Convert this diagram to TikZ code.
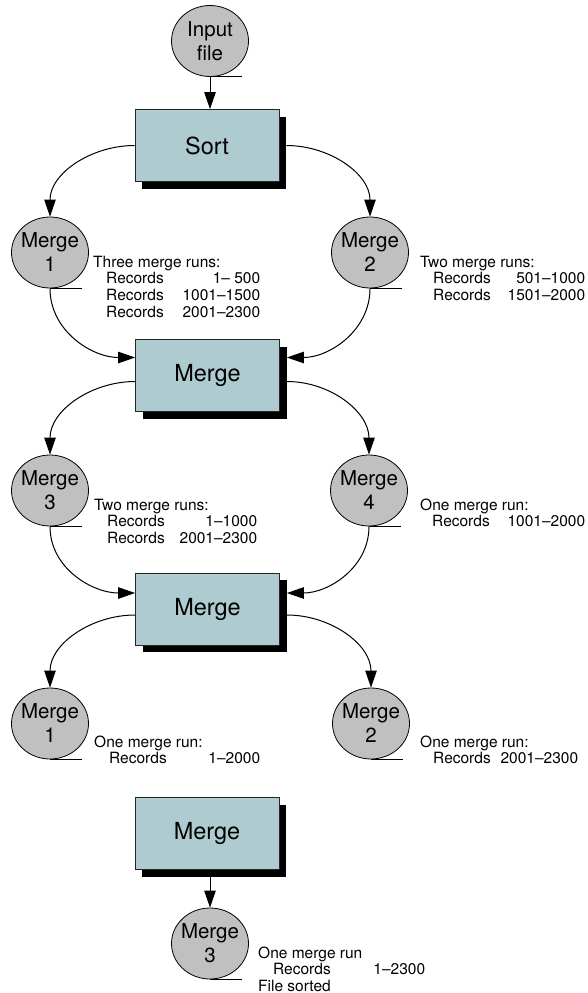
\documentclass[tikz,border=0pt]{standalone}
\usepackage{fontspec}
\setmainfont{TeX Gyre Heros}
\usetikzlibrary{arrows.meta,shapes.geometric,shadows}
\definecolor{boxfill}{RGB}{174,203,207}
\definecolor{circfill}{RGB}{192,192,192}
\newcommand\recline[3]{\makebox[#1pt][l]{\hspace*{#2pt}Records\hfill #3}}
\begin{document}
\begin{tikzpicture}[x=1pt,y=1pt,
  procbox/.style={draw=black!85, line width=0.8pt, fill=boxfill, minimum width=144pt, minimum height=72pt, inner sep=0pt,
    font=\fontsize{23.5}{28}\selectfont,
    drop shadow={shadow xshift=7pt, shadow yshift=-7pt, fill=black, opacity=1}},
  fileell/.style={ellipse, draw=black, line width=0.8pt, fill=circfill, minimum width=77pt, minimum height=71pt,
    inner sep=-4pt, align=center, font=\fontsize{20.5}{24}\selectfont},
  conn/.style={line width=1pt, -{Triangle[length=17pt,width=11.5pt]}},
  uline/.style={line width=1pt},
  info/.style={anchor=base west, inner sep=0pt, font=\fontsize{15.5}{16.8}\selectfont}]
\useasboundingbox (0,0) rectangle (587,-993);

% nodes
\node[fileell] (inp) at (210,-41) {Input\\file};
\node[procbox] (sort) at (207,-145.5) {Sort};
\node[fileell] (a1) at (50,-252.5) {Merge\\1};
\node[fileell] (a2) at (370,-252.5) {Merge\\2};
\node[procbox] (mb1) at (207.5,-375.5) {Merge};
\node[fileell] (b3) at (50,-490.5) {Merge\\3};
\node[fileell] (b4) at (369,-490.5) {Merge\\4};
\node[procbox] (mb2) at (207.5,-609) {Merge};
\node[fileell] (c1) at (50,-723.5) {Merge\\1};
\node[fileell] (c2) at (371,-723.5) {Merge\\2};
\node[procbox] (mb3) at (207,-833.5) {Merge};
\node[fileell] (d3) at (210,-943.5) {Merge\\3};

% underlines
\foreach \n in {inp,a1,a2,b3,b4,c1,c2,d3} \draw[uline] (\n.south) -- ++(32,0);

% info texts
\node[info] (t1) at (93,-267) {\begin{tabular}[t]{@{}l@{}}Three merge runs:\\
  \recline{167}{13}{1– 500}\\ \recline{167}{13}{1001–1500}\\ \recline{167}{13}{2001–2300}\end{tabular}};
\node[info] (t2) at (420,-267) {\begin{tabular}[t]{@{}l@{}}Two merge runs:\\
  \recline{165}{13}{501–1000}\\ \recline{165}{13}{1501–2000}\end{tabular}};
\node[info] (t3) at (94,-510) {\begin{tabular}[t]{@{}l@{}}Two merge runs:\\
  \recline{163}{13}{1–1000}\\ \recline{163}{13}{2001–2300}\end{tabular}};
\node[info] (t4) at (420,-510) {\begin{tabular}[t]{@{}l@{}}One merge run:\\
  \recline{165}{12}{1001–2000}\end{tabular}};
\node[info] (t5) at (94,-747) {\begin{tabular}[t]{@{}l@{}}One merge run:\\
  \recline{166}{15}{1–2000}\end{tabular}};
\node[info] (t6) at (420,-747) {\begin{tabular}[t]{@{}l@{}}One merge run:\\
  \recline{158}{13}{2001–2300}\end{tabular}};
\node[info] (t7) at (258,-958) {\begin{tabular}[t]{@{}l@{}}One merge run\\
  \recline{167}{15}{1–2300}\\ File sorted\end{tabular}};

% connectors
\draw[conn] (inp.south) -- (inp.south |- sort.north);
\draw[conn] (sort.west) to[out=180,in=90] (a1.north);
\draw[conn] ([xshift=7pt]sort.east) to[out=0,in=90] (a2.north);
\draw[conn] (a1.south) to[out=-90,in=180] ([yshift=18pt]mb1.west);
\draw[conn] (a2.south) to[out=-90,in=0] ([xshift=7pt,yshift=18pt]mb1.east);
\draw[conn] ([yshift=-6pt]mb1.west) to[out=180,in=90] (b3.north);
\draw[conn] ([xshift=7pt,yshift=-6pt]mb1.east) to[out=0,in=90] (b4.north);
\draw[conn] (b3.south) to[out=-90,in=180] ([yshift=16pt]mb2.west);
\draw[conn] (b4.south) to[out=-90,in=0] ([xshift=7pt,yshift=16pt]mb2.east);
\draw[conn] ([yshift=-6pt]mb2.west) to[out=180,in=90] (c1.north);
\draw[conn] ([xshift=7pt,yshift=-6pt]mb2.east) to[out=0,in=90] (c2.north);
\draw[conn] (d3.north |- mb3.south) -- (d3.north);
\end{tikzpicture}
\end{document}
